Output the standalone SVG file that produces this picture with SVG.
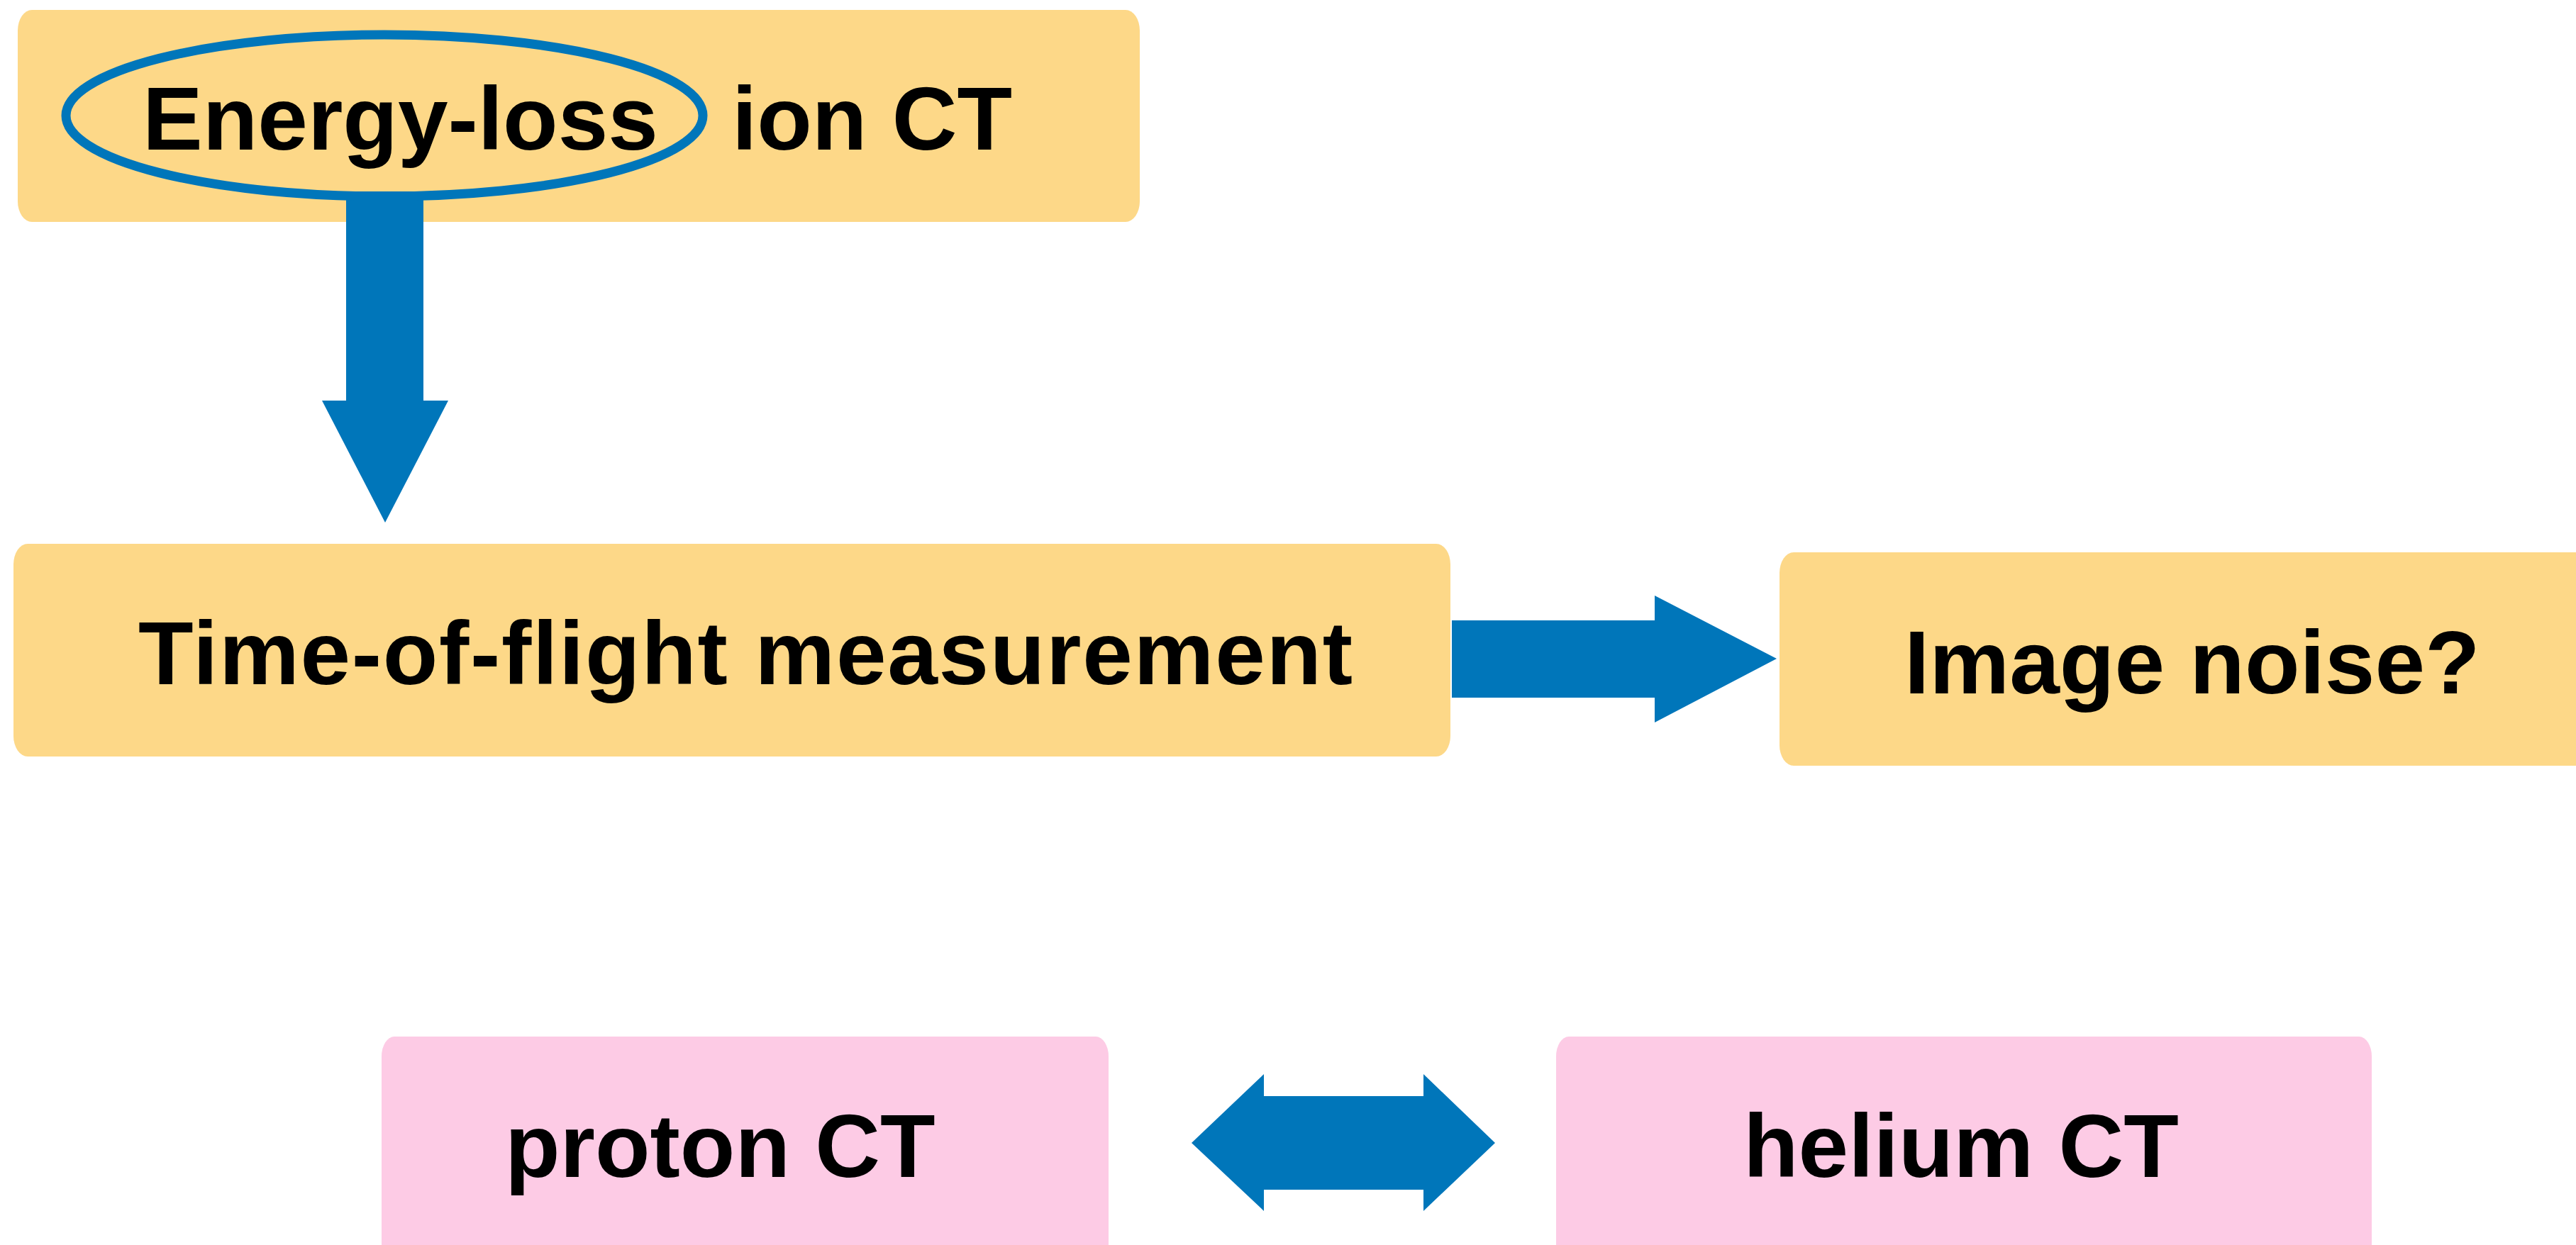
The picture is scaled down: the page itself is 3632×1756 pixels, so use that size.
<svg xmlns="http://www.w3.org/2000/svg" width="3632" height="1756" viewBox="0 0 3632 1756">
<style>
.y{fill:#FDD888}
.p{fill:#FDCBE5}
.a{fill:#0076BA}
.t{font-family:"Liberation Sans",Arial,sans-serif;font-weight:bold;font-size:127px;fill:#000}
</style>
<rect x="0" y="0" width="3632" height="1756" fill="#fff"/>
<g id="node-energy">
<rect class="y" x="25" y="14" width="1582" height="299" rx="20" ry="29"/>
<text class="t" x="201" y="211">Energy-loss</text>
<text class="t" x="1032" y="211">ion CT</text>
</g>
<g id="node-tof">
<rect class="y" x="19" y="767" width="2026" height="300" rx="20" ry="29"/>
<text class="t" x="195" y="965" textLength="1712" lengthAdjust="spacing">Time-of-flight measurement</text>
</g>
<g id="node-noise">
<rect class="y" x="2509" y="779" width="1160" height="301" rx="20" ry="29"/>
<text class="t" x="2685" y="978">Image noise?</text>
</g>
<g id="node-proton">
<rect class="p" x="538" y="1462" width="1025" height="330" rx="18" ry="28"/>
<text class="t" x="712" y="1660">proton CT</text>
</g>
<g id="node-helium">
<rect class="p" x="2194" y="1462" width="1150" height="330" rx="18" ry="28"/>
<text class="t" x="2458" y="1660">helium CT</text>
</g>
<g id="connectors">
<polygon class="a" points="488,270 597,270 597,565 632,565 543,737 454,565 488,565"/>
<ellipse id="highlight" cx="542" cy="163" rx="449" ry="114" fill="none" stroke="#0076BA" stroke-width="13"/>
<polygon class="a" points="2047,875 2333,875 2333,840 2505,929 2333,1019 2333,984 2047,984"/>
<polygon class="a" points="1680,1612 1782,1515 1782,1546 2007,1546 2007,1515 2108,1612 2007,1708 2007,1678 1782,1678 1782,1708"/>
</g>
</svg>
